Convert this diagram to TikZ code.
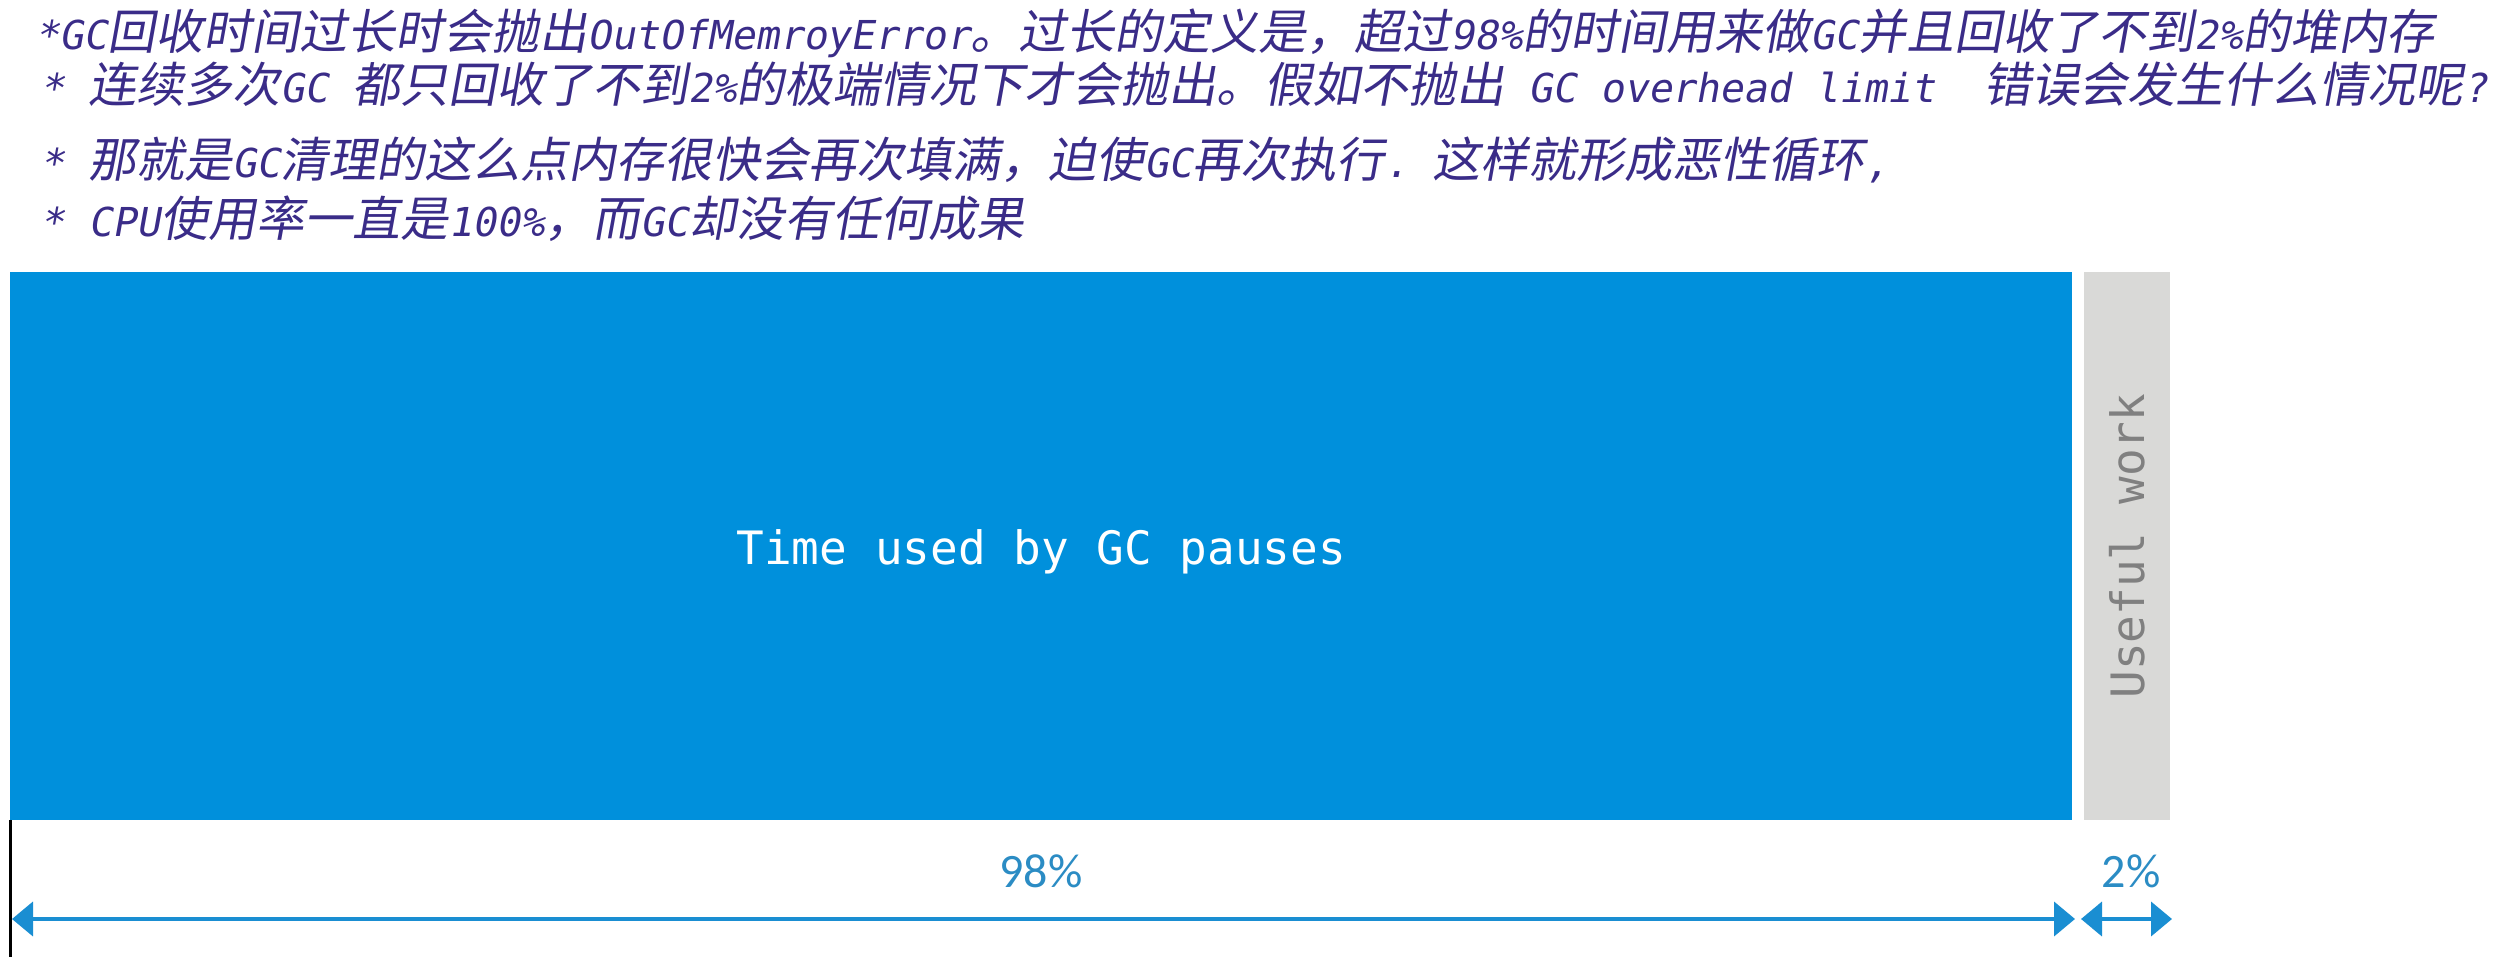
\documentclass[tikz,border=0pt]{standalone}
\usepackage{fontspec}
\usetikzlibrary{arrows.meta}
\newfontfamily\cjkfont[FakeSlant=0.18]{Noto Sans CJK SC}
\newfontfamily\latfont[FakeSlant=0.18,Scale=0.83]{DejaVu Sans Mono}
\newfontfamily\barfont{DejaVu Sans Mono}
\newfontfamily\pctfont{Carlito}
\newcommand\lat[1]{{\latfont #1}}
\definecolor{gcblue}{HTML}{0090DC}
\definecolor{uwgray}{HTML}{D9D9D7}
\definecolor{arrowblue}{HTML}{1A8ED2}
\definecolor{pctblue}{HTML}{2B8CC4}
\definecolor{notecol}{HTML}{3A2C88}
\tikzset{
  noteline/.style={anchor=base west, inner sep=0pt, text=notecol, font=\cjkfont\fontsize{48}{58}\selectfont},
  gcbar/.style={fill=gcblue, draw=none, inner sep=0pt},
  uwbar/.style={fill=uwgray, draw=none, inner sep=0pt},
  barlabel/.style={inner sep=0pt, font=\barfont\fontsize{46}{56}\selectfont},
  pct/.style={inner sep=0pt, text=pctblue, font=\pctfont\fontsize{48}{58}\selectfont},
  dimarrow/.style={draw=arrowblue, line width=4pt, {Triangle[length=21pt,width=34pt]}-{Triangle[length=21pt,width=34pt]}}
}
\begin{document}
\begin{tikzpicture}[x=1pt,y=-1pt]
\useasboundingbox (0,0) rectangle (2493,957);
\fill[white] (0,0) rectangle (2493,957);
% notes
\node[noteline] (n1) at (35,50) {\lat{*GC}回收时间过长时会抛出\lat{OutOfMemroyError}。过长的定义是，超过\lat{98\%}的时间用来做\lat{GC}并且回收了不到\lat{2\%}的堆内存};
\node[noteline] (n2) at (40,103) {\lat{*\ }连续多次\lat{GC\ }都只回收了不到\lat{2\%}的极端情况下才会抛出。假如不抛出\lat{\ GC overhead limit\ \ }错误会发生什么情况呢\lat{?}};
\node[noteline] (n3) at (40,178) {\lat{*\ }那就是\lat{GC}清理的这么点内存很快会再次填满，迫使\lat{GC}再次执行\lat{.\ }这样就形成恶性循环\lat{,}};
\node[noteline] (n4) at (40,237) {\lat{*\ CPU}使用率一直是\lat{100\%}，而\lat{GC}却没有任何成果};
% bars
\node[gcbar, anchor=north west, minimum width=2062pt, minimum height=548pt] (gc) at (10,272) {};
\node[barlabel, text=white, yshift=-6pt] (gclabel) at (gc.center) {Time used by GC pauses};
\node[uwbar, anchor=north west, minimum width=86pt, minimum height=548pt] (uw) at (2084,272) {};
\node[barlabel, text=gray, rotate=90] (uwlabel) at (uw.center) {Useful work};
% left black rule
\coordinate (lb) at (10,957);
\draw[black, line width=3pt] (gc.south west) -- (lb);
% dimension arrows
\coordinate (a1) at (12,919);
\coordinate (a2) at (2075,919);
\coordinate (b1) at (2081,919);
\coordinate (b2) at (2172,919);
\draw[dimarrow] (a1) -- (a2);
\draw[dimarrow] (b1) -- (b2);
\node[pct] (p98) at (1041,871) {98\%};
\node[pct] (p2) at (2131,871) {2\%};
\end{tikzpicture}
\end{document}
